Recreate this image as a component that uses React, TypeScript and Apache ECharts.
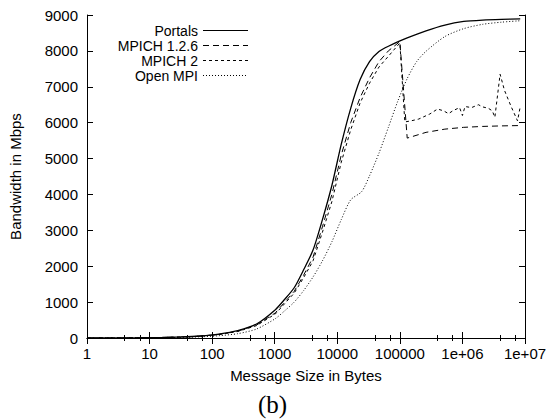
import React, { useEffect, useRef } from "react";
import * as echarts from "echarts";

const seriesNames = ["Portals", "MPICH 1.2.6", "MPICH 2", "Open MPI"];

const portalsX = [1, 2, 4, 8, 16, 32, 64, 128, 256, 512, 1024, 1448, 2048, 2896, 4096, 5793, 8192, 11585, 16384, 23170, 32768, 46341, 65536, 131072, 262144, 524288, 1048576, 2097152, 4194304, 8388608];
const portalsY = [1, 2, 4, 8, 15, 29, 56, 108, 205, 390, 790, 1080, 1400, 1900, 2450, 3300, 4250, 5400, 6400, 7200, 7700, 7980, 8130, 8360, 8560, 8720, 8820, 8860, 8880, 8890];

const mpich1X = [1, 2, 4, 8, 16, 32, 64, 128, 256, 512, 1024, 1448, 2048, 2896, 4096, 5793, 8192, 11585, 16384, 23170, 32768, 46341, 65536, 100000, 131072, 262144, 524288, 1048576, 2097152, 4194304, 8388608];
const mpich1Y = [1, 2, 4, 7, 14, 27, 52, 100, 190, 360, 700, 1000, 1300, 1750, 2250, 3100, 4000, 5100, 6000, 6700, 7250, 7700, 8000, 8260, 5570, 5730, 5820, 5870, 5895, 5910, 5920];

const mpich2X = [1, 2, 4, 8, 16, 32, 64, 128, 256, 512, 1024, 1448, 2048, 2896, 4096, 5793, 8192, 11585, 16384, 23170, 32768, 46341, 65536, 100000, 120000, 150000, 200000, 300000, 400000, 500000, 600000, 700000, 900000, 1000000, 1100000, 1400000, 1800000, 2100000, 2600000, 3000000, 3300000, 4000000, 4700000, 6000000, 7600000, 8400000];
const mpich2Y = [1, 2, 4, 7, 13, 26, 50, 96, 180, 345, 670, 960, 1250, 1680, 2150, 2950, 3800, 4900, 5800, 6550, 7100, 7550, 7850, 8220, 6020, 6050, 6100, 6240, 6380, 6330, 6250, 6330, 6420, 6200, 6450, 6420, 6500, 6440, 6400, 6330, 6150, 7350, 6900, 6450, 6050, 6450];

const openX = [1, 2, 4, 8, 16, 32, 64, 128, 256, 512, 1024, 1448, 2048, 2896, 4096, 5793, 8192, 11585, 16384, 24576, 32768, 46341, 65536, 92682, 131072, 185364, 262144, 524288, 1048576, 2097152, 4194304, 8388608];
const openY = [0.5, 1, 2, 4, 8, 16, 32, 64, 120, 250, 540, 760, 1000, 1320, 1700, 2150, 2680, 3300, 3850, 4080, 4520, 5150, 5870, 6600, 7230, 7700, 7990, 8400, 8620, 8740, 8800, 8840];

const yMin = 0;
const yMax = 9000;
const yInterval = 1000;
const xMin = 1;
const xMax = 10000000;

const xTitle = "Message Size in Bytes";
const yTitle = "Bandwidth in Mbps";
const caption = "(b)";

const FONT = "Liberation Sans";

function pairs(xs: number[], ys: number[]) {
  return xs.map((x, i) => [x, ys[i]]);
}

function fmtX(v: number) {
  if (v >= 1e6) {
    const e = Math.round(Math.log10(v));
    return "1e+" + (e < 10 ? "0" + e : String(e));
  }
  return String(Math.round(v));
}

export default function App() {
  const ref = useRef<HTMLDivElement>(null);
  useEffect(() => {
    if (!ref.current) return;
    const chart = echarts.init(ref.current, undefined, { renderer: "svg" });
    const tickStyle = { color: "#000", width: 1 };
    const baseX = {
      type: "log" as const,
      logBase: 10,
      min: xMin,
      max: xMax,
      splitNumber: 7,
      axisLine: { show: true, lineStyle: { color: "#000", width: 1 } },
      axisTick: { show: true, inside: true, length: 6, lineStyle: tickStyle },
      minorTick: { show: true, splitNumber: 3, length: 3, lineStyle: tickStyle },
      splitLine: { show: false },
      minorSplitLine: { show: false },
    };
    const baseY = {
      type: "value" as const,
      min: yMin,
      max: yMax,
      interval: yInterval,
      axisLine: { show: true, lineStyle: { color: "#000", width: 1 } },
      axisTick: { show: true, inside: true, length: 6, lineStyle: tickStyle },
      splitLine: { show: false },
    };
    const lineSeries = (name: string, data: number[][], type: any, width: number, smooth: number) => ({
      name,
      type: "line",
      data,
      symbol: "none",
      showSymbol: false,
      smooth,
      xAxisIndex: 0,
      yAxisIndex: 0,
      lineStyle: { color: "#000", width, type },
      itemStyle: { color: "#000" },
      emphasis: { disabled: true },
    });
    chart.setOption({
      animation: false,
      backgroundColor: "#fff",
      textStyle: { fontFamily: FONT },
      title: {
        text: caption,
        left: 258,
        top: 392,
        padding: 0,
        textStyle: { fontFamily: "Liberation Serif", fontSize: 25, fontWeight: "normal", color: "#000" },
      },
      grid: { left: 87, right: 26, top: 15, bottom: 81, show: false },
      legend: {
        orient: "vertical",
        left: 110,
        top: 23,
        align: "right",
        itemWidth: 45,
        itemHeight: 10,
        itemGap: 0,
        padding: 0,
        data: seriesNames,
        itemStyle: { opacity: 0 },
        lineStyle: { width: 1 },
        textStyle: { fontFamily: FONT, fontSize: 14, color: "#000", width: 88, align: "right", lineHeight: 15 },
      },
      xAxis: [
        {
          ...baseX,
          position: "bottom",
          name: xTitle,
          nameLocation: "middle",
          nameGap: 30,
          nameTextStyle: { fontFamily: FONT, fontSize: 15, color: "#000" },
          axisLabel: { show: true, margin: 8, fontFamily: FONT, fontSize: 15, color: "#000", formatter: fmtX },
        },
        {
          ...baseX,
          position: "top",
          axisLabel: { show: false },
        },
      ],
      yAxis: [
        {
          ...baseY,
          position: "left",
          name: yTitle,
          nameLocation: "middle",
          nameGap: 64,
          nameTextStyle: { fontFamily: FONT, fontSize: 15, color: "#000" },
          axisLabel: { show: true, margin: 9, fontFamily: FONT, fontSize: 15, color: "#000", formatter: (v: number) => String(v) },
        },
        {
          ...baseY,
          position: "right",
          axisLabel: { show: false },
        },
      ],
      series: [
        lineSeries(seriesNames[0], pairs(portalsX, portalsY), "solid", 1.3, 0.25),
        lineSeries(seriesNames[1], pairs(mpich1X, mpich1Y), [6, 4], 1, 0),
        lineSeries(seriesNames[2], pairs(mpich2X, mpich2Y), [3, 3], 1, 0),
        lineSeries(seriesNames[3], pairs(openX, openY), [1, 2], 1, 0.25),
      ],
    });
    return () => chart.dispose();
  }, []);
  return <div ref={ref} style={{ width: 551, height: 419, position: "absolute", left: 0, top: 0 }} />;
}
